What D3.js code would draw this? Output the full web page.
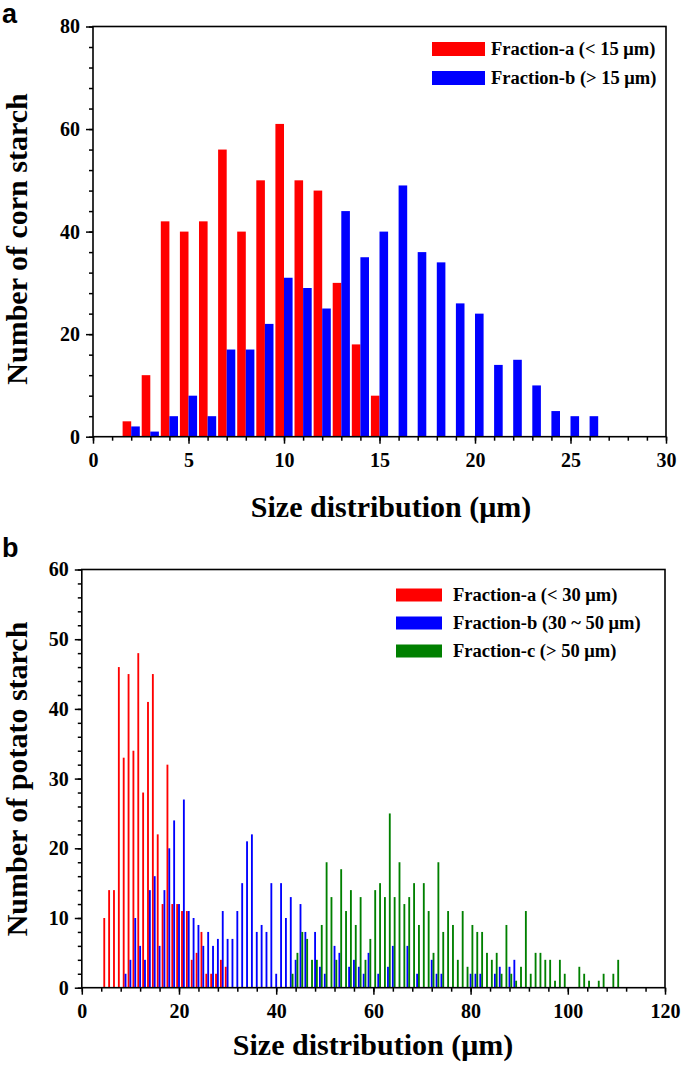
<!DOCTYPE html>
<html><head><meta charset="utf-8">
<script src="https://cdn.jsdelivr.net/npm/d3@7"></script>
<style>
body{margin:0;background:#fff}
svg{display:block}
text{font-family:"Liberation Serif","Times New Roman",serif;font-weight:bold;fill:#000}
</style>
</head><body>
<svg id="c" width="685" height="1067"></svg>
<script>
// ---------- Panel a: corn starch ----------
const cornSizesA = [2,3,4,5,6,7,8,9,10,11,12,13,14,15];
const cornCountsA = [3,12,42,40,42,56,40,50,61,50,48,30,18,8];
const cornSizesB = [2,3,4,5,6,7,8,9,10,11,12,13,14,15,16,17,18,19,20,21,22,23,24,25,26];
const cornCountsB = [2,1,4,8,4,17,17,22,31,29,25,44,35,40,49,36,34,26,24,14,15,10,5,4,4];
const cornXTicks = [0,5,10,15,20,25,30];
const cornYTicks = [0,20,40,60,80];
const cornLegend = ["Fraction-a (< 15 \u03bcm)","Fraction-b (> 15 \u03bcm)"];

// ---------- Panel b: potato starch ----------
const potSizesA = [5,6,7,8,9,10,11,12,13,14,15,16,17,18,19,20,21,22,23,24,25,26,27,28,29,30];
const potCountsA = [10,14,14,46,33,45,34,48,28,41,45,22,12,32,12,12,11,11,4,5,8,2,2,2,4,3];
const potSizesB = [9,10,11,12,13,14,15,16,17,18,19,20,21,22,23,24,25,26,27,28,29,30,31,32,33,34,35,36,37,38,39,40,41,42,43,44,45,46,48,49,50,52,53,55,56,57,58,59,61,63,64,67,69,72,73,74,80,81,82,85,86,88,89];
const potCountsB = [2,4,10,6,4,14,16,6,14,20,24,12,27,11,10,9,6,8,6,7,11,7,7,11,15,21,22,8,9,8,15,2,15,10,13,4,12,8,8,3,2,6,5,3,4,3,2,5,2,3,6,6,2,4,2,2,2,2,2,2,3,3,4];
const potSizesC = [43,44,45,46,47,48,49,50,51,52,53,54,55,56,57,58,59,60,61,62,63,64,65,66,67,68,69,70,71,72,73,74,75,76,77,78,79,80,81,82,83,84,85,86,87,88,89,90,91,92,93,94,95,96,97,98,99,102,103,104,106,107,109,110];
const potCountsC = [2,5,8,7,4,4,9,18,13,4,17,11,14,9,13,4,7,14,15,13,25,13,18,12,13,15,9,15,11,5,18,8,11,9,4,11,3,9,8,8,5,4,5,2,9,2,1,3,11,2,5,5,4,4,1,4,2,3,2,1,1,2,2,4];
const potXTicks = [0,20,40,60,80,100,120];
const potYTicks = [0,10,20,30,40,50,60];
const potLegend = ["Fraction-a (< 30 \u03bcm)","Fraction-b (30 ~ 50 \u03bcm)","Fraction-c (> 50 \u03bcm)"];

const RED="#ff0000", BLUE="#0000ff", GREEN="#008000";
const svg = d3.select("#c");

function frame(g, x, y, xMinor, yMinor, xTicks, yTicks){
  const [x0,x1]=x.range(), [y0,y1]=y.range();
  g.append("g").attr("transform",`translate(0,${y0})`)
    .call(d3.axisBottom(x).tickValues(xMinor).tickSize(4).tickFormat(""))
    .call(a=>a.select(".domain").remove());
  g.append("g").attr("transform",`translate(${x0},0)`)
    .call(d3.axisLeft(y).tickValues(yMinor).tickSize(4).tickFormat(""))
    .call(a=>a.select(".domain").remove());
  g.append("g").attr("transform",`translate(0,${y0})`)
    .call(d3.axisBottom(x).tickValues(xTicks).tickSize(7).tickPadding(9).tickFormat(d3.format("d")))
    .call(a=>a.select(".domain").remove())
    .call(a=>a.selectAll("text").attr("font-size",20));
  g.append("g").attr("transform",`translate(${x0},0)`)
    .call(d3.axisLeft(y).tickValues(yTicks).tickSize(7).tickPadding(6).tickFormat(d3.format("d")))
    .call(a=>a.select(".domain").remove())
    .call(a=>a.selectAll("text").attr("font-size",20));
  g.selectAll(".tick line").attr("stroke","#000").attr("stroke-width",1.5);
  g.append("rect").attr("x",x0).attr("y",y1).attr("width",x1-x0).attr("height",y0-y1)
    .attr("fill","none").attr("stroke","#000").attr("stroke-width",1.6);
}

// ---------- Panel a ----------
{
  const x = d3.scaleLinear().domain([0,30]).range([93,666]);
  const y = d3.scaleLinear().domain([0,80]).range([436.7,26.5]);
  const g = svg.append("g");
  const bw = 0.45;
  g.selectAll(".ra").data(cornSizesA.map((s,i)=>[s,cornCountsA[i]])).join("rect")
    .attr("x",d=>x(d[0]-bw)).attr("width",x(bw)-x(0))
    .attr("y",d=>y(d[1])).attr("height",d=>y(0)-y(d[1])).attr("fill",RED);
  g.selectAll(".rb").data(cornSizesB.map((s,i)=>[s,cornCountsB[i]])).join("rect")
    .attr("x",d=>x(d[0])).attr("width",x(bw)-x(0))
    .attr("y",d=>y(d[1])).attr("height",d=>y(0)-y(d[1])).attr("fill",BLUE);
  frame(g,x,y,d3.range(0,31,1),d3.range(0,81,4),cornXTicks,cornYTicks);
  const cols=[RED,BLUE];
  cornLegend.forEach((t,i)=>{
    const cy = 49 + i*29;
    g.append("rect").attr("x",432).attr("y",cy-7).attr("width",53).attr("height",14).attr("fill",cols[i]);
    g.append("text").attr("x",491).attr("y",cy+6).attr("font-size",18.5).text(t);
  });
  g.append("text").attr("x",391).attr("y",517).attr("text-anchor","middle").attr("font-size",30).text("Size distribution (\u03bcm)");
  g.append("text").attr("transform","translate(27,239) rotate(-90)").attr("text-anchor","middle").attr("font-size",30).text("Number of corn starch");
  g.append("text").attr("x",2).attr("y",23).attr("font-size",27).style("font-family","'Liberation Sans',Arial,sans-serif").text("a");
}

// ---------- Panel b ----------
{
  const x = d3.scaleLinear().domain([0,120]).range([81.8,665]);
  const y = d3.scaleLinear().domain([0,60]).range([987.7,569.5]);
  const g = svg.append("g");
  const bw = 0.38;
  const series = [
    {s:potSizesA,c:potCountsA,col:RED,off:-0.38},
    {s:potSizesB,c:potCountsB,col:BLUE,off:0},
    {s:potSizesC,c:potCountsC,col:GREEN,off:0.37}
  ];
  series.forEach(sr=>{
    g.append("g").selectAll("rect").data(sr.s.map((s,i)=>[s,sr.c[i]])).join("rect")
      .attr("x",d=>x(d[0]+sr.off-bw/2)).attr("width",x(bw)-x(0))
      .attr("y",d=>y(d[1])).attr("height",d=>y(0)-y(d[1])).attr("fill",sr.col);
  });
  frame(g,x,y,d3.range(0,121,4),d3.range(0,61,2),potXTicks,potYTicks);
  const cols=[RED,BLUE,GREEN];
  potLegend.forEach((t,i)=>{
    const cy = 595 + i*28;
    g.append("rect").attr("x",396).attr("y",cy-6.5).attr("width",46).attr("height",13).attr("fill",cols[i]);
    g.append("text").attr("x",453).attr("y",cy+6).attr("font-size",18.5).text(t);
  });
  g.append("text").attr("x",373).attr("y",1055).attr("text-anchor","middle").attr("font-size",30).text("Size distribution (\u03bcm)");
  g.append("text").attr("transform","translate(27,779) rotate(-90)").attr("text-anchor","middle").attr("font-size",30).text("Number of potato starch");
  g.append("text").attr("x",2).attr("y",557).attr("font-size",27).style("font-family","'Liberation Sans',Arial,sans-serif").text("b");
}
</script>
</body></html>
